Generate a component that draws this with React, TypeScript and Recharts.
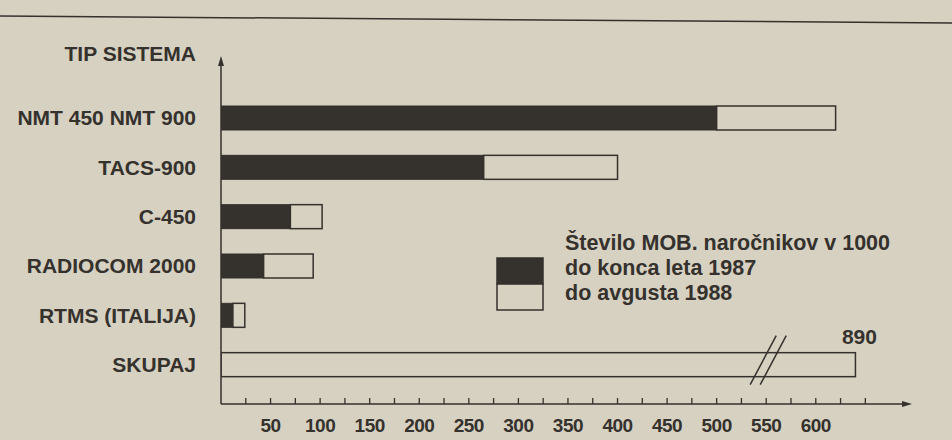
import React from 'react';
import { BarChart, Bar, XAxis, YAxis } from 'recharts';

const categories = ['NMT 450 NMT 900', 'TACS-900', 'C-450', 'RADIOCOM 2000', 'RTMS (ITALIJA)', 'SKUPAJ'];
// subscribers in 1000
const endOf1987 = [500, 265, 70, 43, 12, 0];
const untilAug1988 = [620, 400, 102, 93, 24, 890];
const xTicks = [25, 50, 75, 100, 125, 150, 175, 200, 225, 250, 275, 300, 325, 350, 375, 400, 425, 450, 475, 500, 525, 550, 575, 600, 625, 650];
const labelledTicks = [50, 100, 150, 200, 250, 300, 350, 400, 450, 500, 550, 600];
const breakAt = 550; // where the SKUPAJ bar is cut
const breakCap = 640; // drawn length of a cut bar

const INK = '#35312d';
const PAPER = '#d7d1c2';
const FONT = '"Liberation Sans", Arial, sans-serif';

const data = categories.map((name, i) => {
  const shown = Math.min(untilAug1988[i], breakCap);
  return { name, early: endOf1987[i], later: shown - endOf1987[i], total: untilAug1988[i], shown };
});

const labelStyle = { fontFamily: FONT, fontSize: 21, fontWeight: 600, letterSpacing: 0 } as const;

const CategoryTick = (props: any) => {
  const { y, payload } = props;
  return (
    <text x={196} y={y} textAnchor="end" dominantBaseline="central" fill={INK} style={labelStyle}>
      {payload.value}
    </text>
  );
};

const ValueTick = (props: any) => {
  const { x, y, payload } = props;
  const showLabel = labelledTicks.includes(payload.value);
  return (
    <g>
      <line x1={x} x2={x} y1={y} y2={y - 6} stroke={INK} strokeWidth={1.3} />
      {showLabel && (
        <text x={x} y={y + 21} textAnchor="middle" dominantBaseline="central" fill={INK}
          style={{ fontFamily: FONT, fontSize: 19, fontWeight: 600, letterSpacing: -0.5 }}>
          {payload.value}
        </text>
      )}
    </g>
  );
};

const LaterShape = (props: any) => {
  const { x, y, width, height, payload } = props;
  if (!width || width <= 0) return null;
  const cut = payload.total > payload.shown;
  const bx = x + width * (breakAt / payload.shown);
  return (
    <g>
      <rect x={x} y={y} width={width} height={height} fill={PAPER} stroke={INK} strokeWidth={1.5} />
      {cut && (
        <>
          <line x1={bx - 16} y1={y + height + 8} x2={bx + 10} y2={y - 17} stroke={INK} strokeWidth={1.5} />
          <line x1={bx - 6} y1={y + height + 8} x2={bx + 20} y2={y - 17} stroke={INK} strokeWidth={1.5} />
          <text x={x + width + 4} y={y - 16} textAnchor="middle" dominantBaseline="central" fill={INK} style={labelStyle}>
            {payload.total}
          </text>
        </>
      )}
    </g>
  );
};

export default function App() {
  const legendStyle = { fontFamily: FONT, fontSize: 21.5, fontWeight: 600, letterSpacing: 0 } as const;
  return (
    <div style={{ position: 'relative', width: 952, height: 440, background: PAPER, overflow: 'hidden' }}>
      <style>{`body{margin:0;background:${PAPER}}`}</style>
      <BarChart width={952} height={440} data={data} layout="vertical"
        margin={{ top: 60, right: 47, bottom: 6, left: 0 }} barSize={24}>
        <XAxis type="number" domain={[0, 690]} ticks={xTicks} tick={<ValueTick />} tickSize={0} tickMargin={0}
          tickLine={false} axisLine={{ stroke: INK, strokeWidth: 1.5 }} height={30} interval={0} allowDataOverflow />
        <YAxis type="category" dataKey="name" width={221} tick={<CategoryTick />} tickLine={false}
          axisLine={{ stroke: INK, strokeWidth: 1.5 }} padding={{ top: 33, bottom: 15 }} interval={0} />
        <Bar dataKey="early" stackId="s" fill={INK} stroke={INK} strokeWidth={1} isAnimationActive={false} />
        <Bar dataKey="later" stackId="s" shape={<LaterShape />} isAnimationActive={false} />
      </BarChart>
      <svg width={952} height={440} style={{ position: 'absolute', left: 0, top: 0, pointerEvents: 'none' }}>
        <line x1={0} y1={16} x2={952} y2={23} stroke={INK} strokeWidth={1.5} />
        <polygon points="221,56 218,66 224,66" fill={INK} />
        <polygon points="912,404 902,401 902,407" fill={INK} />
        <text x={196} y={53} textAnchor="end" dominantBaseline="central" fill={INK} style={labelStyle}>TIP SISTEMA</text>
        <rect x={497} y={258} width={46} height={26} fill={INK} stroke={INK} strokeWidth={1.5} />
        <rect x={497} y={284} width={46} height={26} fill={PAPER} stroke={INK} strokeWidth={1.5} />
        <text x={565} y={243} dominantBaseline="central" fill={INK} style={legendStyle}>Število MOB. naročnikov v 1000</text>
        <text x={565} y={268} dominantBaseline="central" fill={INK} style={legendStyle}>do konca leta 1987</text>
        <text x={565} y={293} dominantBaseline="central" fill={INK} style={legendStyle}>do avgusta 1988</text>
      </svg>
    </div>
  );
}
